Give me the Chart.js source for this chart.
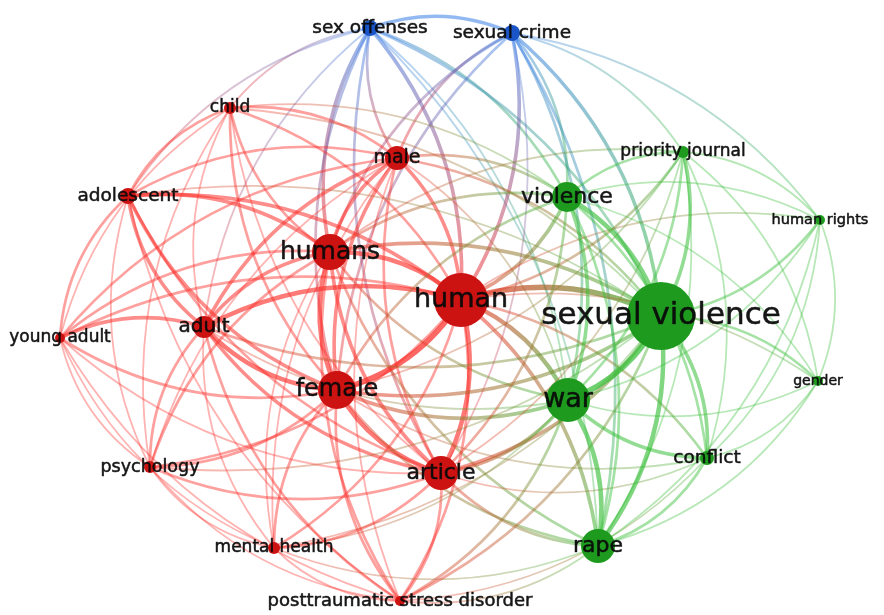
<!DOCTYPE html>
<html><head><meta charset="utf-8">
<script src="https://cdn.jsdelivr.net/npm/chart.js@4.4.0/dist/chart.umd.min.js"></script>
<style>html,body{margin:0;padding:0;background:#fff;overflow:hidden}canvas{display:block;filter:blur(0.6px)}</style>
</head><body>
<canvas id="c" width="884" height="615"></canvas>
<script>
// Node data (map coordinates)
const labels = ["sex offenses","sexual crime","child","male","priority journal","violence","adolescent","human rights","humans","human","sexual violence","young adult","adult","gender","female","war","psychology","conflict","article","rape","mental health","posttraumatic stress disorder"];
const xs = [370,512,230,397,683,567,128,820,330,461,661,60,204,818,337,568,150,707,441,598,274,400];
const ys = [28,33,108,158,152,197,196,220,252,300,316,338,327,381,390,400,467,458,473,546,548,601];
const weights = [8,8,6,12,6,15,8,5,18,27,34,5,11,5,19,22,6,7,17,17,6,5];
const clusters = [3,3,1,1,2,2,1,2,1,1,2,1,1,2,1,2,1,2,1,2,1,1];
const fontSizes = [18.5,18.5,17,19,17,22,18.5,14.5,25,27,31,17,20,14,24,27,17.5,18.5,22,22,17,18];
const L = n => labels.indexOf(n);
// Links: [source, target, strength]
const links = [
["sex offenses","sexual crime",3],["sex offenses","male",2],["sex offenses","humans",3],["sex offenses","human",3],["sex offenses","violence",2],["sex offenses","adolescent",1],["sex offenses","child",1],["sex offenses","female",2],["sex offenses","article",2],["sex offenses","sexual violence",2],["sex offenses","adult",1],["sex offenses","war",1],["sex offenses","rape",1],
["sexual crime","human",3],["sexual crime","humans",2],["sexual crime","violence",2],["sexual crime","sexual violence",3],["sexual crime","male",2],["sexual crime","female",2],["sexual crime","war",2],["sexual crime","article",1],["sexual crime","rape",2],["sexual crime","priority journal",1],["sexual crime","human rights",1],
["child","adolescent",2],["child","humans",2],["child","human",2],["child","male",2],["child","female",2],["child","adult",1],["child","article",1],["child","young adult",1],["child","psychology",1],["child","sexual violence",1],["child","violence",1],
["male","humans",3],["male","human",3],["male","female",3],["male","adult",3],["male","adolescent",2],["male","article",2],["male","young adult",2],["male","violence",2],["male","sexual violence",2],["male","war",1],["male","psychology",1],["male","posttraumatic stress disorder",1],["male","mental health",1],
["adolescent","humans",3],["adolescent","human",3],["adolescent","female",3],["adolescent","adult",3],["adolescent","young adult",2],["adolescent","article",2],["adolescent","psychology",1],["adolescent","sexual violence",1],["adolescent","posttraumatic stress disorder",1],
["humans","human",4],["humans","female",4],["humans","adult",3],["humans","article",3],["humans","young adult",2],["humans","psychology",2],["humans","mental health",1],["humans","posttraumatic stress disorder",2],["humans","sexual violence",3],["humans","violence",2],["humans","war",2],["humans","rape",2],["humans","priority journal",1],
["human","female",5],["human","adult",4],["human","article",4],["human","young adult",2],["human","psychology",2],["human","mental health",2],["human","posttraumatic stress disorder",2],["human","sexual violence",5],["human","violence",3],["human","war",4],["human","rape",3],["human","priority journal",2],["human","conflict",2],["human","gender",1],["human","human rights",1],
["adult","female",4],["adult","article",3],["adult","young adult",3],["adult","psychology",2],["adult","mental health",1],["adult","posttraumatic stress disorder",2],["adult","sexual violence",2],["adult","war",1],
["young adult","female",2],["young adult","psychology",1],["young adult","article",1],["young adult","mental health",1],["young adult","posttraumatic stress disorder",1],
["female","article",4],["female","psychology",2],["female","mental health",2],["female","posttraumatic stress disorder",2],["female","sexual violence",3],["female","war",3],["female","violence",2],["female","rape",2],["female","conflict",1],["female","priority journal",1],
["psychology","article",2],["psychology","mental health",1],["psychology","posttraumatic stress disorder",1],["psychology","sexual violence",1],
["article","mental health",2],["article","posttraumatic stress disorder",2],["article","sexual violence",3],["article","war",3],["article","rape",2],["article","violence",2],["article","conflict",1],["article","priority journal",1],
["mental health","posttraumatic stress disorder",1],["mental health","sexual violence",1],["mental health","war",1],["mental health","rape",1],
["posttraumatic stress disorder","sexual violence",2],["posttraumatic stress disorder","war",2],["posttraumatic stress disorder","rape",1],["posttraumatic stress disorder","conflict",1],
["sexual violence","violence",4],["sexual violence","war",5],["sexual violence","rape",4],["sexual violence","conflict",3],["sexual violence","gender",2],["sexual violence","human rights",2],["sexual violence","priority journal",3],
["violence","war",3],["violence","rape",2],["violence","priority journal",2],["violence","conflict",2],["violence","gender",1],["violence","human rights",1],
["war","rape",4],["war","conflict",3],["war","priority journal",2],["war","gender",1],["war","human rights",1],
["rape","conflict",2],["rape","priority journal",1],["rape","gender",1],["rape","human rights",1],
["priority journal","human rights",1],["priority journal","conflict",1],["priority journal","gender",1],
["human rights","gender",1],["human rights","conflict",1],["gender","conflict",1]
];

const nodeColor = {1:"rgb(205,18,18)",2:"rgb(30,155,30)",3:"rgb(25,85,200)"};
const edgeRGB = {1:[252,45,40],2:[55,190,55],3:[55,125,230]};

const edgePlugin = {
  id:'edges',
  beforeDatasetsDraw(chart){
    const {ctx, scales:{x, y}} = chart;
    const cx = x.getPixelForValue(440), cy = y.getPixelForValue(310);
    ctx.save();
    ctx.lineCap = 'round';
    links.forEach(([a,b,w])=>{
      const i=L(a), j=L(b);
      const x1=x.getPixelForValue(xs[i]), y1=y.getPixelForValue(ys[i]);
      const x2=x.getPixelForValue(xs[j]), y2=y.getPixelForValue(ys[j]);
      const mx=(x1+x2)/2, my=(y1+y2)/2, dx=x2-x1, dy=y2-y1;
      let px=-dy*0.2, py=dx*0.2;
      const d1=Math.hypot(mx+px-cx,my+py-cy), d2=Math.hypot(mx-px-cx,my-py-cy);
      if(d2>d1){px=-px;py=-py;}
      const c1=edgeRGB[clusters[i]], c2=edgeRGB[clusters[j]];
      const al = 0.27 + 0.09*w;
      const g=ctx.createLinearGradient(x1,y1,x2,y2);
      g.addColorStop(0,`rgba(${c1[0]},${c1[1]},${c1[2]},${al})`);
      g.addColorStop(1,`rgba(${c2[0]},${c2[1]},${c2[2]},${al})`);
      ctx.strokeStyle=g;
      ctx.lineWidth=0.9+w*0.9;
      ctx.beginPath();
      ctx.moveTo(x1,y1);
      ctx.quadraticCurveTo(mx+px,my+py,x2,y2);
      ctx.stroke();
    });
    ctx.restore();
  }
};
const labelPlugin = {
  id:'nodeLabels',
  afterDatasetsDraw(chart){
    const {ctx, scales:{x, y}} = chart;
    ctx.save();
    ctx.textAlign='center'; ctx.textBaseline='middle';
    ctx.lineJoin='round';
    labels.forEach((t,i)=>{
      ctx.font = `${fontSizes[i]}px "DejaVu Sans", sans-serif`;
      const px = x.getPixelForValue(xs[i]), py = y.getPixelForValue(ys[i]);
      ctx.fillStyle='rgba(10,10,10,0.95)';
      ctx.strokeStyle='rgba(10,10,10,0.8)';
      ctx.lineWidth=0.6;
      ctx.strokeText(t, px, py);
      ctx.fillText(t, px, py);
    });
    ctx.restore();
  }
};

new Chart(document.getElementById('c'),{
  type:'bubble',
  data:{datasets:[{
    data: labels.map((t,i)=>({x:xs[i],y:ys[i],r:weights[i]})),
    backgroundColor: clusters.map(c=>nodeColor[c]),
    borderWidth:0,
    clip:false
  }]},
  options:{
    responsive:false, animation:false,
    layout:{padding:0, autoPadding:false},
    plugins:{legend:{display:false},tooltip:{enabled:false}},
    scales:{
      x:{type:'linear',min:0,max:884,display:false},
      y:{type:'linear',min:0,max:615,reverse:true,display:false}
    }
  },
  plugins:[edgePlugin,labelPlugin]
});
</script>
</body></html>
